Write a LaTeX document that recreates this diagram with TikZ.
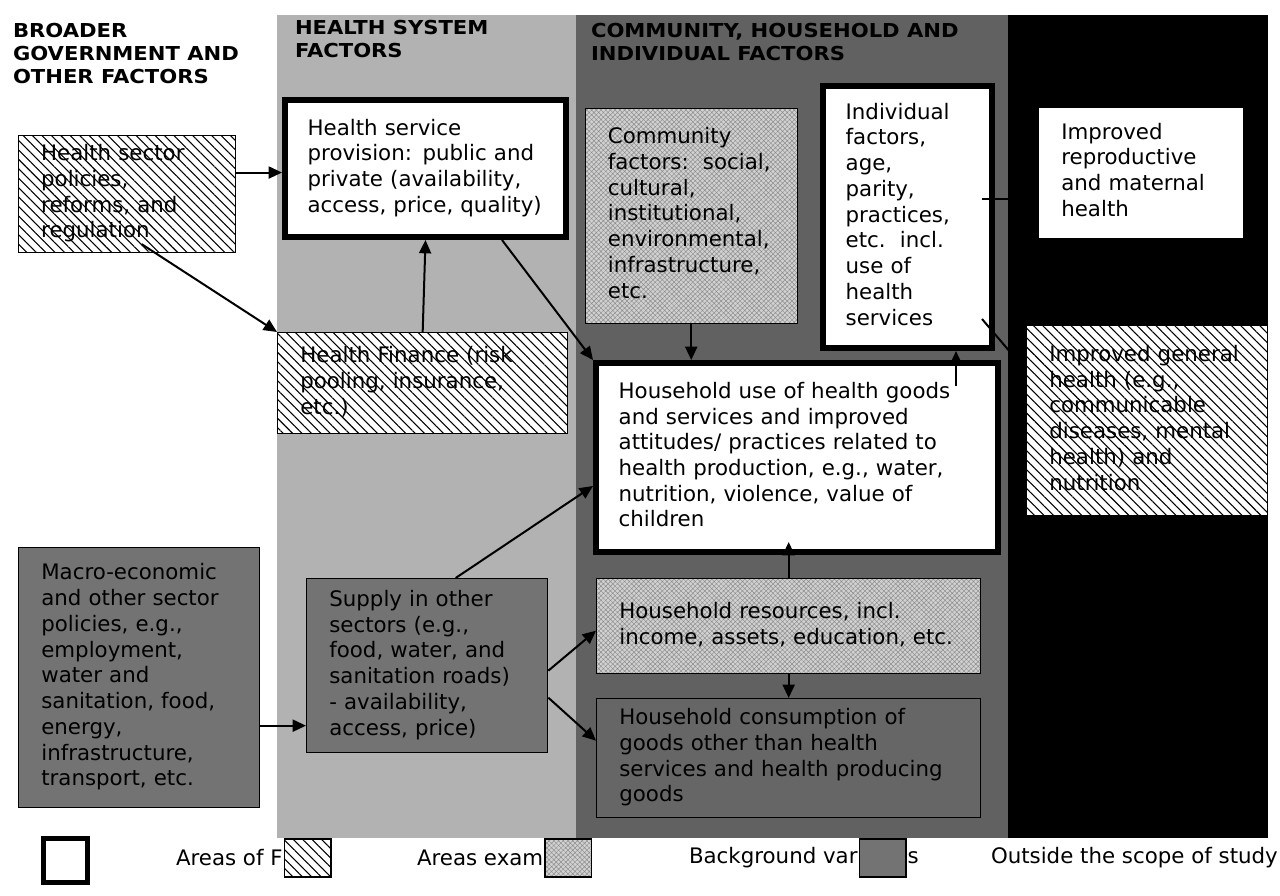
\documentclass[tikz,border=0pt]{standalone}
\usepackage{fontspec}
\setmainfont{DejaVu Sans}
\newfontfamily\headfont{DejaVu Sans}[FakeStretch=1.1]
\usetikzlibrary{arrows.meta,patterns.meta,calc,positioning}

\newcommand{\boxlines}[1]{\begin{tabular}{@{}l@{}}#1\end{tabular}}

\begin{document}
\begin{tikzpicture}[->,>={Triangle[length=10pt,width=9pt]},x=0.75pt,y=-0.75pt,line width=1.5pt,
    box/.style={anchor=north west,draw,line width=1pt,inner xsep=17pt,inner ysep=0pt,
      font=\fontsize{16}{19.3}\selectfont},
    hatch/.style={preaction={fill=white},pattern={Lines[angle=-45,distance=5pt,line width=0.8pt]}},
    texture/.style={preaction={fill=black!18},pattern={Hatch[angle=45,distance=2.5pt,line width=0.35pt]},
      pattern color=black!45},
    policy box/.style={box,hatch},
    focus box/.style={box,fill=white,line width=4.5pt},
    studied box/.style={box,texture},
    background box/.style={box,fill=black!55},
    outcome box/.style={box,fill=white,draw=none},
    head/.style={anchor=north west,align=left,inner sep=0pt,
      font=\headfont\fontsize{14.4}{17.25}\selectfont\bfseries},
    legend text/.style={anchor=west,inner sep=0pt,font=\fontsize{16}{19.3}\selectfont},
    swatch/.style={draw,line width=1pt,minimum width=35pt,minimum height=28.5pt,inner sep=0pt}]

  \useasboundingbox (0,0) rectangle (1280,895);

  % columns
  \fill[black!30] (277,15) rectangle (576,838);
  \fill[black!62] (576,15) rectangle (1008,838);
  \fill[black] (1008,15) rectangle (1268,838);

  \node[head] (hgov) at (12,22) {BROADER\\GOVERNMENT AND\\OTHER FACTORS};
  \node[head] (hsys) at (294,19) {HEALTH SYSTEM\\FACTORS};
  \node[head] (hcom) at (590,22) {COMMUNITY, HOUSEHOLD AND\\INDIVIDUAL FACTORS};

  % boxes
  \node[policy box,text width=128.75pt,minimum height=87.75pt] (polsec) at (18,135)
    {\boxlines{Health sector\\policies,\\reforms, and\\regulation}};
  \node[focus box,text width=176.75pt,minimum height=102.75pt] (service) at (282,97)
    {\boxlines{Health service\\provision: public and\\private (availability,\\access, price, quality)}};
  \node[policy box,text width=183.5pt,minimum height=75.75pt] (finance) at (277,332)
    {\boxlines{Health Finance (risk\\pooling, insurance,\\etc.)}};
  \node[studied box,text width=125pt,minimum height=161.25pt] (community) at (585,108)
    {\boxlines{Community\\factors:~~social,\\cultural,\\institutional,\\environmental,\\infrastructure,\\etc.}};
  \node[focus box,text width=92.75pt,minimum height=196.5pt] (indiv) at (820,83)
    {\boxlines{Individual\\factors,\\age,\\parity,\\practices,\\etc.~~incl.\\use of\\health\\services}};
  \node[outcome box,text width=119pt,minimum height=97.5pt] (repro) at (1038,107)
    {\boxlines{Improved\\reproductive\\and maternal\\health}};
  \node[policy box,text width=146.75pt,minimum height=142.5pt] (general) at (1026,325)
    {\boxlines{Improved general\\health (e.g.,\\communicable\\diseases, mental\\health) and\\nutrition}};
  \node[focus box,text width=267.5pt,minimum height=141.75pt] (hhuse) at (593,360)
    {\boxlines{Household use of health goods\\and services and improved\\attitudes/ practices related to\\health production, e.g., water,\\nutrition, violence, value of\\children}};
  \node[studied box,text width=254pt,minimum height=71.25pt] (resources) at (596,578)
    {\boxlines{Household resources, incl.\\income, assets, education, etc.}};
  \node[background box,fill=black!60,text width=254pt,minimum height=89.25pt] (consume) at (596,698)
    {\boxlines{Household consumption of\\goods other than health\\services and health producing\\goods}};
  \node[background box,text width=146.75pt,minimum height=130.5pt] (supply) at (306,578)
    {\boxlines{Supply in other\\sectors (e.g.,\\food, water, and\\sanitation roads)\\- availability,\\access, price)}};
  \node[background box,text width=146.75pt,minimum height=195pt] (macro) at (18,547)
    {\boxlines{Macro-economic\\and other sector\\policies, e.g.,\\employment,\\water and\\sanitation, food,\\energy,\\infrastructure,\\transport, etc.}};

  % links
  \coordinate (p1) at ($(polsec.east)+(0,-21.5)$);
  \coordinate (p2) at ($(macro.east)+(0,48)$);
  \coordinate (p3) at ($(indiv.east)+(-13,-18)$);

  \path
    (p1) edge (p1 -| service.west)
    ($(polsec.south)+(14.5,-9)$) edge (finance.north west)
    (finance.north) edge (service.south)
    ($(service.south)+(76.5,0)$) edge (hhuse.north west)
    (community.south) edge (community.south |- hhuse.north)
    ($(indiv.south |- hhuse.north)+(48.5,26)$) edge ($(indiv.south)+(48.5,0)$)
    (p3) edge (p3 -| repro.west)
    ($(indiv.south east)+(-13,-32)$) edge ($(general.west)+(0,-50)$)
    (general.north |- repro.south) edge (general.north)
    ($(supply.north)+(28.5,0)$) edge ($(hhuse.west)+(0,28.5)$)
    ($(supply.east)+(0,5)$) edge ($(resources.west)+(0,4.5)$)
    ($(supply.east)+(0,32)$) edge ($(consume.west)+(0,-17.5)$)
    (p2) edge (p2 -| supply.west)
    (resources.north) edge ($(resources.north |- hhuse.south)+(0,-13)$)
    (resources.south) edge (resources.south |- consume.north);

  % legend
  \node[draw,line width=3.5pt,fill=white,minimum width=33pt,minimum height=33pt,
    anchor=north west,inner sep=0pt] (lgfocus) at (41,836) {};
  \node[legend text] (lgpol) at (175,858) {Areas of F};
  \node[swatch,hatch,right=0pt of lgpol] (lgpolsw) {};
  \node[legend text] (lgexam) at (416,858) {Areas exam};
  \node[swatch,texture,right=0pt of lgexam] (lgexamsw) {};
  \node[legend text] (lgback) at (688,858) {Background var};
  \node[swatch,fill=black!55,right=0pt of lgback] (lgbacksw) {};
  \node[legend text,right=0pt of lgbacksw] (lgbacks) {s};
  \node[legend text] (lgout) at (990,858) {Outside the scope of study};
\end{tikzpicture}
\end{document}
